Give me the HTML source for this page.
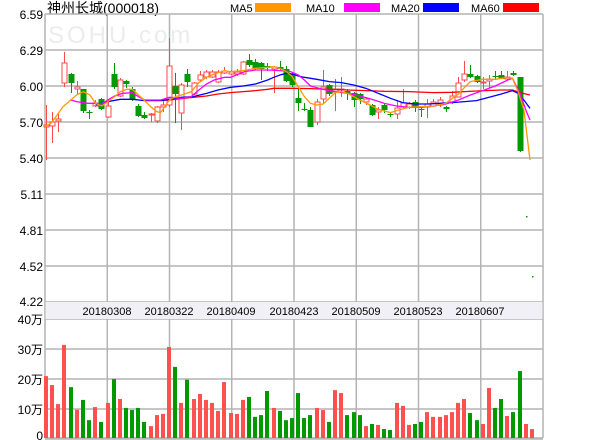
<!DOCTYPE html>
<html><head><meta charset="utf-8"><style>
body{margin:0;background:#fff;width:600px;height:440px;overflow:hidden}
svg{display:block}
text{font-family:"Liberation Sans","Noto Sans CJK SC",sans-serif}
</style></head><body>
<svg id="s" width="600" height="440" xmlns="http://www.w3.org/2000/svg">
<rect x="0" y="0" width="600" height="440" fill="#fff"/>
<text x="47" y="13" font-size="14" fill="#000">神州长城(000018)</text>
<text x="230" y="12" font-size="11" fill="#000">MA5</text><rect x="255" y="3" width="36" height="9" fill="#ff9900"/>
<text x="306" y="12" font-size="11" fill="#000">MA10</text><rect x="344" y="3" width="36" height="9" fill="#ff00ff"/>
<text x="391" y="12" font-size="11" fill="#000">MA20</text><rect x="423" y="3" width="36" height="9" fill="#0000ff"/>
<text x="471" y="12" font-size="11" fill="#000">MA60</text><rect x="503" y="3" width="36" height="9" fill="#ff0000"/>
<text x="48" y="43" font-size="24" fill="#ececec" letter-spacing="3">SOHU.com</text>
<g id="grid" stroke="#b4b4b4" stroke-width="1.5" fill="none"></g>
<rect x="45.5" y="302" width="497" height="17" fill="#f0f0f6"/>
<g font-size="11" fill="#000" text-anchor="middle">
<text x="107" y="315">20180308</text><text x="169" y="315">20180322</text><text x="231" y="315">20180409</text><text x="294" y="315">20180423</text><text x="356" y="315">20180509</text><text x="418" y="315">20180523</text><text x="480" y="315">20180607</text>
</g>
<g font-size="12" fill="#000" text-anchor="end">
<text x="43" y="19">6.59</text><text x="43" y="55">6.29</text><text x="43" y="91">6.00</text><text x="43" y="127">5.70</text><text x="43" y="163">5.40</text><text x="43" y="199">5.11</text><text x="43" y="235">4.81</text><text x="43" y="271">4.52</text><text x="43" y="306">4.22</text>
<text x="43" y="324">40万</text><text x="43" y="354">30万</text><text x="43" y="384">20万</text><text x="43" y="414">10万</text><text x="43" y="440">0</text>
</g>
<g id="cand"></g><g id="vol"></g>
<g transform="scale(0.3824,0.3333)" fill="none" stroke-width="1.3">
<polyline vector-effect="non-scaling-stroke" stroke="#ff0000" points="420,302 443,300 475,296 505,292 540,288 570,282 603,278 636,275 668,272 700,268 716,265 764,265 812,266 861,268 909,270 957,272 1005,274 1069,275 1134,278 1183,277 1246,273 1311,270 1340,270 1360,278 1386,285"/>
<polyline vector-effect="non-scaling-stroke" stroke="#0000ff" points="250,315 282,305 315,298 346,298 378,302 420,302 443,298 475,292 505,290 540,280 570,270 603,262 636,258 668,252 700,240 716,232 732,225 749,220 764,222 780,228 796,232 828,238 861,245 893,248 925,255 957,265 989,280 1021,295 1053,308 1086,312 1118,312 1150,310 1183,308 1215,305 1246,302 1278,292 1311,282 1340,272 1355,280 1370,300 1386,325"/>
<polyline vector-effect="non-scaling-stroke" stroke="#ff00ff" points="185,300 200,305 230,310 250,310 266,312 282,300 300,288 320,280 346,278 362,290 378,300 420,300 443,292 475,295 500,290 520,270 540,252 560,240 587,232 603,232 618,225 640,215 668,210 700,210 732,212 760,215 780,225 796,240 812,258 845,268 877,275 909,280 941,288 973,298 1005,310 1037,318 1069,322 1102,322 1134,318 1166,312 1199,300 1230,285 1262,272 1295,258 1328,240 1340,235 1360,280 1375,330 1386,360"/>
<polyline vector-effect="non-scaling-stroke" stroke="#ff9900" points="118,380 135,368 165,320 200,285 218,275 235,285 250,310 266,318 282,305 300,290 315,275 331,268 346,268 362,285 378,302 394,320 410,335 420,338 443,300 459,290 475,285 500,275 520,248 540,232 560,222 587,212 603,215 636,212 668,205 700,202 716,200 732,205 749,215 764,230 780,260 796,290 812,310 828,315 845,312 861,295 877,278 893,275 909,280 925,290 941,300 973,318 989,328 1021,338 1037,332 1069,322 1102,320 1134,318 1166,310 1183,295 1199,282 1215,262 1230,245 1262,238 1295,238 1328,232 1340,235 1355,275 1370,330 1386,480"/>
</g>
</svg>
<script>
var NS="http://www.w3.org/2000/svg";
function el(p,t,a){var e=document.createElementNS(NS,t);for(var k in a)e.setAttribute(k,a[k]);p.appendChild(e);return e;}
var g=document.getElementById("grid");
for(var i=0;i<9;i++){var y=14+i*36;el(g,"line",{x1:45,x2:543,y1:y,y2:y});}
[319,349,379,409].forEach(function(y){el(g,"line",{x1:45,x2:543,y1:y,y2:y});});
el(g,"line",{x1:45,x2:543,y1:438.5,y2:438.5,"stroke-width":2.5});
for(var k=0;k<=8;k++){var x=45+k*62.25;el(g,"line",{x1:x,x2:x,y1:14,y2:438});}
var C=[[105,160,125,127,1],[112,143,122,126,1],[113,132,119,121,1],[52,87,63,83,1],[73,93,74,83,0],[81,94,87,89,1],[89,113,89,111,0],[110,119,112,113,0],[100,107,103,106,1],[98,110,99,109,0],[100,118,106,117,1],[63,89,74,87,0],[78,97,80,96,1],[80,88,81,84,0],[87,101,89,99,0],[104,117,106,116,0],[112,119,115,118,0],[113,122,114,115,1],[106,123,107,121,1],[100,112,105,107,1],[38,107,66,105,1],[73,123,86,94,0],[83,130,85,113,1],[69,87,74,82,0],[82,95,83,94,1],[71,82,75,80,1],[70,79,72,77,1],[70,78,72,77,1],[70,83,72,82,1],[67,74,71,73,1],[70,75,72,74,1],[69,76,72,74,1],[61,75,62,74,1],[54,67,60,65,0],[59,70,62,69,0],[62,80,63,69,0],[63,71,66,68,0],[66,93,67,69,1],[61,70,67,69,0],[66,82,69,81,0],[73,87,74,85,0],[89,111,98,103,0],[103,111,109,110,0],[107,127,110,127,0],[99,125,102,122,1],[70,103,87,99,1],[84,96,85,94,0],[79,111,89,92,1],[77,97,89,90,1],[89,100,91,93,0],[92,107,93,100,0],[93,104,94,99,0],[97,105,99,102,1],[104,116,105,115,0],[107,119,110,112,1],[104,113,105,110,0],[112,117,114,115,0],[100,119,108,114,1],[89,108,103,107,1],[102,109,104,107,1],[100,112,102,107,0],[106,117,109,110,0],[99,118,104,107,1],[99,107,102,106,1],[97,107,100,105,1],[106,112,107,109,0],[91,104,96,102,1],[77,97,83,97,1],[61,82,74,80,1],[65,78,74,77,0],[75,83,76,82,0],[77,89,82,83,1],[75,88,79,81,1],[71,79,76,77,0],[71,79,75,79,0],[71,80,77,79,1],[71,76,73,75,0],[77,152,77,151,0],[216,218,216,218,0],[276,278,276,278,0]];
var V=[20.8,17.8,11.4,31.3,17.1,9.5,12.8,6,10.4,5.4,11.8,19.8,13.1,10.1,9.4,10.1,5.4,4,7.7,8.1,30.6,23.9,11.8,19.6,13.1,14.8,12.8,11.8,9.1,18.8,8.4,8.1,12.8,13.8,7.1,7.7,15.8,10.1,9.1,6,6.7,15.1,6.7,7.7,10.1,9.4,5.4,16.1,15.1,7.7,8.7,7.7,4,4.7,4.4,3,2.7,11.8,10.8,4.4,4.7,5.4,8.7,7.1,7.1,7.7,8.7,11.8,13.1,8.4,6,4.7,16.8,10.1,13.1,7.4,8.7,22.5,4.7,3];
var VC=[1,1,1,1,0,1,0,0,1,0,1,0,1,0,0,0,0,1,1,1,1,0,1,0,1,1,1,1,1,1,1,1,1,0,0,0,0,1,0,0,0,0,0,0,1,1,0,1,1,0,0,0,1,0,1,0,0,1,1,1,0,0,1,1,1,1,1,1,1,0,0,1,1,0,0,1,0,0,1,1];
var cg=document.getElementById("cand"),vg=document.getElementById("vol");
C.forEach(function(c,i){var x=Math.round(46+6.15*i)+0.5;var col=c[4]?"#ff4a4a":"#009a00";
 if(i>=78){el(cg,"rect",{x:x-0.5,y:c[2],width:1.5,height:1.5,fill:col});return;}
 el(cg,"line",{x1:x,x2:x,y1:c[0],y2:c[1],stroke:col,"stroke-width":1});
 var h=Math.max(c[3]-c[2],1);
 if(c[4])el(cg,"rect",{x:x-2.5,y:c[2],width:5,height:h,fill:"#fff",stroke:col,"stroke-width":1});
 else el(cg,"rect",{x:x-3,y:c[2],width:6,height:h,fill:col});
});
V.forEach(function(v,i){var x=Math.round(46+6.15*i)-2;var h=v*2.975;el(vg,"rect",{x:x,y:438-h,width:4,height:h,fill:VC[i]?"#ff5050":"#009900"});});
</script>
</body></html>
